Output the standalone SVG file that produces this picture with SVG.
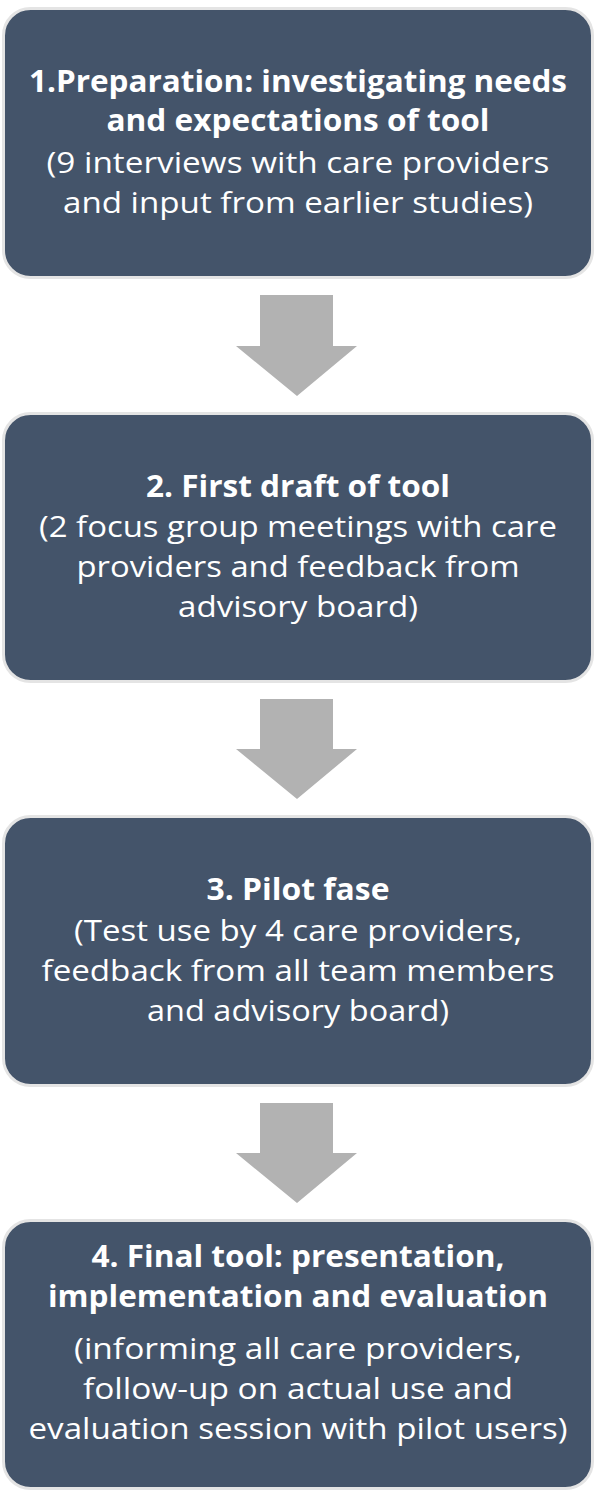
<svg xmlns="http://www.w3.org/2000/svg" width="600" height="1492" viewBox="0 0 600 1492">
<style>
.box{fill:#44546A;stroke:#E4E4E4;stroke-width:3}
.arrow{fill:#B2B2B2}
text{font-family:"Open Sans","Noto Sans","Liberation Sans",sans-serif;font-size:30px;fill:#FFFFFF;text-anchor:middle}
.b{font-weight:bold}
</style>
<rect width="600" height="1492" fill="#FFFFFF"/>
<g id="connectors">
<polygon class="arrow" points="260,295 333,295 333,346 357,346 297,396 236,346 260,346"/>
<polygon class="arrow" points="260,699 333,699 333,749 357,749 297,799 236,749 260,749"/>
<polygon class="arrow" points="260,1103 333,1103 333,1153 357,1153 297,1203 236,1153 260,1153"/>
</g>
<g id="node1">
<rect class="box" x="3.5" y="8.5" width="589" height="269" rx="27"/>
<text class="b" x="298" y="92" textLength="538" lengthAdjust="spacingAndGlyphs">1.Preparation: investigating needs</text>
<text class="b" x="298" y="131" textLength="383" lengthAdjust="spacingAndGlyphs">and expectations of tool</text>
<text x="298" y="173" textLength="503" lengthAdjust="spacingAndGlyphs">(9 interviews with care providers</text>
<text x="298" y="213" textLength="470" lengthAdjust="spacingAndGlyphs">and input from earlier studies)</text>
</g>
<g id="node2">
<rect class="box" x="3.5" y="413.5" width="589" height="268" rx="27"/>
<text class="b" x="298" y="497" textLength="304" lengthAdjust="spacingAndGlyphs">2. First draft of tool</text>
<text x="298" y="537" textLength="518" lengthAdjust="spacingAndGlyphs">(2 focus group meetings with care</text>
<text x="298" y="577" textLength="443" lengthAdjust="spacingAndGlyphs">providers and feedback from</text>
<text x="298" y="617" textLength="240" lengthAdjust="spacingAndGlyphs">advisory board)</text>
</g>
<g id="node3">
<rect class="box" x="3.5" y="816.5" width="589" height="269" rx="27"/>
<text class="b" x="298" y="900" textLength="183" lengthAdjust="spacingAndGlyphs">3. Pilot fase</text>
<text x="298" y="941" textLength="448" lengthAdjust="spacingAndGlyphs">(Test use by 4 care providers,</text>
<text x="298" y="981" textLength="513" lengthAdjust="spacingAndGlyphs">feedback from all team members</text>
<text x="298" y="1021" textLength="302" lengthAdjust="spacingAndGlyphs">and advisory board)</text>
</g>
<g id="node4">
<rect class="box" x="3.5" y="1220.5" width="589" height="268" rx="27"/>
<text class="b" x="298" y="1267" textLength="413" lengthAdjust="spacingAndGlyphs">4. Final tool: presentation,</text>
<text class="b" x="298" y="1307" textLength="500" lengthAdjust="spacingAndGlyphs">implementation and evaluation</text>
<text x="298" y="1359" textLength="448" lengthAdjust="spacingAndGlyphs">(informing all care providers,</text>
<text x="298" y="1399" textLength="430" lengthAdjust="spacingAndGlyphs">follow-up on actual use and</text>
<text x="298" y="1439" textLength="539" lengthAdjust="spacingAndGlyphs">evaluation session with pilot users)</text>
</g>
</svg>
